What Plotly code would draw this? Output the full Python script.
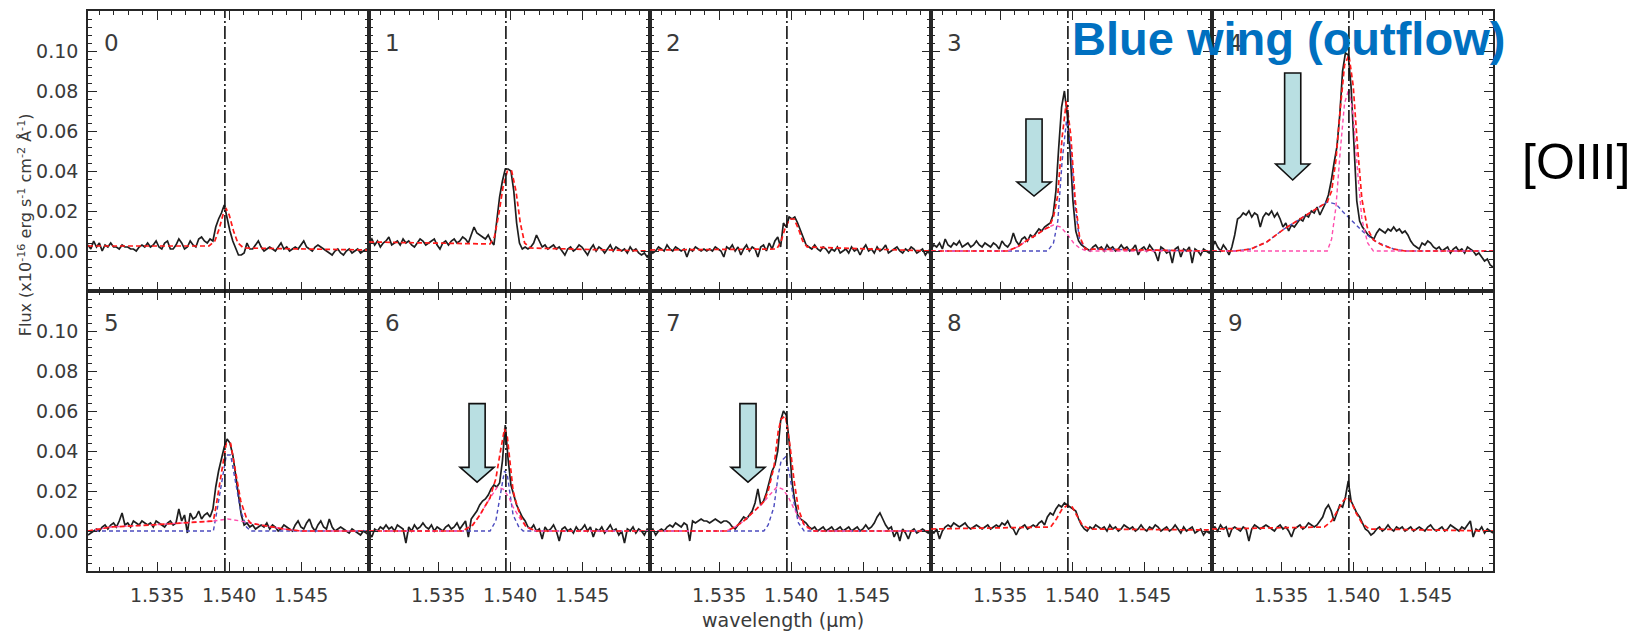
import numpy as np
import plotly.graph_objects as go
from plotly.subplots import make_subplots

# ---------------------------------------------------------------- data
# Spectral sampling of every panel (H band, micron)
WAVE_START = 1.5302
WAVE_STEP = 0.000197
N_PIX = 100
LINE_CENTER = 1.5397          # systemic [OIII] position
X_RANGE = [1.5302, 1.5497]
Y_RANGE = [-0.02, 0.12]
X_TICKS = [1.535, 1.540, 1.545]
Y_TICKS = [0.00, 0.02, 0.04, 0.06, 0.08, 0.10]
PANEL_LABELS = ["0", "1", "2", "3", "4", "5", "6", "7", "8", "9"]

# Observed spectra, flux in units of 1e-3 (axis unit: 1e-16 erg s-1 cm-2 A-1)
SPEC_0 = [3, 1, 5, 2, 4, 0, 3, 2, 4, 2,
          2, 1, 3, 2, 2, 1, 1, 0, 2, 3,
          2, 4, 2, 3, 5, 2, 1, 4, 5, 1,
          1, 3, 6, 4, 1, 2, 5, 3, 2, 6,
          7, 5, 4, 6, 5, 12, 16, 19, 23, 16,
          10, 5, 1, -2, -2, -1, 4, 1, 1, 3,
          5, 2, 0, 1, 2, 1, 0, 2, 4, 1,
          2, 0, 1, 2, 1, 3, 5, 2, 1, 0,
          2, 3, 2, 1, 0, -1, -2, 0, 1, -1,
          -2, 0, 1, -1, 0, 1, -1, 0, 1, 0]
SPEC_1 = [4, 6, 3, 5, 2, 4, 5, 7, 3, 4,
          5, 3, 6, 4, 5, 3, 2, 4, 6, 5,
          3, 4, 5, 6, 3, 1, 4, 5, 3, 5,
          6, 4, 5, 7, 6, 4, 8, 12, 9, 8,
          7, 6, 8, 5, 3, 14, 27, 35, 41, 41,
          40, 30, 14, 4, 1, 2, 1, 2, 4, 8,
          5, 2, 3, 1, 2, 3, 1, 2, 0, -2,
          1, 2, 0, 1, 3, 2, 0, -2, 1, 3,
          0, 2, 1, -1, 1, 3, 0, 2, 1, 0,
          1, -1, 2, 0, 1, -1, -2, -1, -3, -1]
SPEC_2 = [1, -1, 0, 2, 1, 0, 3, 1, 0, 2,
          1, 0, 1, -3, 1, 0, 2, 1, 0, 1,
          0, 1, 0, 2, 1, 0, -3, 2, 1, 3,
          0, 2, -2, 1, 3, 0, 2, 1, -3, 2,
          3, 0, 4, 1, 5, 7, 2, 14, 12, 17,
          16, 17, 14, 10, 6, 3, 2, 1, 3, 1,
          0, 2, 1, -1, 1, 0, 2, -1, 0, 1,
          -1, 2, 0, 1, -2, 1, 3, 0, 1, -1,
          2, 0, 1, 3, -1, 0, 1, 2, 0, -1,
          1, 0, 2, 1, -1, 0, 1, -2, 0, -3]
SPEC_3 = [1, 3, 2, 4, 1, 6, 3, 2, 4, 3,
          5, 2, 3, 4, 2, 3, 5, 3, 2, 4,
          3, 2, 4, 3, 1, 5, 3, 2, 4, 9,
          5, 3, 6, 7, 5, 8, 7, 9, 11, 10,
          12, 13, 14, 18, 30, 52, 72, 80, 68, 50,
          25, 10, 5, 3, 2, 1, 0, 2, 3, 1,
          2, 0, 3, 1, 2, 0, 1, 3, 1, 2,
          0, 1, 3, -2, 1, 2, 0, 3, 1, -1,
          -5, 2, 1, -1, 0, -6, 1, 2, -3, 1,
          0, 2, -6, 1, 0, -2, 1, 0, -1, 1]
SPEC_4 = [1, 5, 2, 0, 3, 1, -2, 2, 8, 16,
          17, 19, 18, 20, 17, 19, 18, 12, 17, 19,
          18, 20, 17, 19, 16, 12, 14, 10, 13, 12,
          14, 16, 15, 18, 17, 20, 19, 22, 18, 21,
          24, 28, 35, 44, 52, 68, 90, 99, 98, 82,
          50, 25, 15, 12, 10, 8, 7, 6, 9, 11,
          10, 9, 11, 10, 12, 10, 11, 9, 10, 8,
          5, 3, 2, 1, 4, 3, 5, 4, 2, 1,
          2, 0, 1, 2, -1, 1, 2, 0, 1, -1,
          2, 1, 0, -2, -1, -3, -5, -4, -7, -8]
SPEC_5 = [-2, -1, 0, 1, 0, 2, 3, 1, 3, 4,
          2, 5, 9, 3, 4, 2, 5, 4, 3, 5,
          4, 3, 4, 2, 5, 4, 3, 2, 4, 5,
          3, 4, 11, 5, 8, -1, 9, 6, 7, 10,
          6, 8, 9, 7, 11, 22, 30, 36, 42, 46,
          44, 38, 28, 16, 8, 3, 4, 2, 3, 1,
          2, 3, 2, 4, 1, 3, 2, 0, 1, 3,
          2, 1, 0, 3, 5, 2, 1, 4, 6, 2,
          0, 3, 5, 2, 1, 6, 2, 0, 1, 2,
          1, 0, -1, 1, 0, -1, -2, 0, -1, -2]
SPEC_6 = [-1, -3, 1, 0, 2, 1, 3, 1, 2, 0,
          3, 2, 1, -6, 2, 0, 3, 1, 2, 4,
          2, 1, 3, 0, 2, 1, 0, 2, 3, 1,
          2, 4, 1, 3, 5, -3, 6, 8, 10, 13,
          15, 16, 18, 21, 23, 22, 24, 35, 53, 36,
          23, 18, 13, 10, 7, 5, 2, 1, 3, 0,
          1, -4, 2, 0, 1, 3, 0, -5, 1, 2,
          0, 1, -1, 2, 0, 1, 3, 0, 2, -3,
          1, 0, 2, -1, 1, 3, 0, 1, -2, 0,
          -6, 1, 0, 2, -1, 1, 0, -2, 1, 0]
SPEC_7 = [0, 1, -2, 0, 1, 0, 2, 3, 2, 4,
          3, 2, 4, 3, -5, 5, 4, 5, 6, 5,
          5, 4, 5, 6, 5, 4, 5, 5, 4, 2,
          1, 3, 5, 7, 6, 8, 10, 14, 21, 13,
          15, 19, 25, 30, 33, 40, 55, 60, 58, 45,
          25, 15, 8, 6, 5, 4, 2, 1, 2, 0,
          1, 2, 0, 1, 2, 0, 1, 2, 0, 1,
          2, 0, 1, 2, 0, 1, 3, 1, 2, 4,
          7, 9, 6, 3, 1, 2, -3, 0, -5, 1,
          -1, -4, 0, 1, -1, 0, 1, 0, -1, 1]
SPEC_8 = [0, -1, 1, -4, 0, 2, 3, 2, 4, 3,
          2, 3, 4, 2, 1, 2, 3, 2, 1, 2,
          3, 1, 2, 3, 2, 4, 3, 5, 2, 1,
          -2, 1, 2, 3, 1, 2, 3, 2, 4, 5,
          3, 7, 9, 8, 11, 13, 12, 14, 13, 12,
          11, 10, 6, 3, 1, 0, 2, 1, 3, 2,
          1, 2, 0, 3, 1, 2, 0, 1, 3, 2,
          1, 2, 0, 1, 3, 1, 0, 2, 1, 3,
          2, 0, 1, 2, 0, 1, 3, 1, -1, 2,
          0, 1, 2, -1, 0, 1, -2, 0, -1, 1]
SPEC_9 = [1, 2, 0, 3, 1, 2, -3, 1, 2, 1,
          0, 2, 1, -5, 1, 3, 2, 1, 2, 3,
          2, 1, 0, 2, 3, 1, 2, 0, -3, 1,
          2, 3, 1, 2, 4, 3, 2, 3, 5, 7,
          11, 13, 10, 5, 9, 13, 12, 17, 25, 15,
          12, 9, 7, 4, 1, 0, -2, -1, 1, 2,
          0, 1, 3, 1, 0, 2, 1, 2, 0, 1,
          2, 0, 1, 2, 1, 0, 2, 3, 1, 0,
          1, 2, 0, 1, 3, 2, 1, 0, 2, 1,
          3, 5, -3, 1, 0, 2, -1, 1, 0, -1]

# Total model (red), knots in wavelength / flux (1e-3)
RED_WAVE_0 = [1.5302, 1.5386, 1.5390, 1.5393, 1.5396, 1.5398, 1.5400, 1.5403, 1.5406, 1.5410, 1.5497]
RED_FLUX_0 = [2.5, 2.5, 5, 11, 19, 21, 18, 10, 4, 1.5, 0.5]
RED_WAVE_1 = [1.5302, 1.5386, 1.5389, 1.5392, 1.5395, 1.5398, 1.5401, 1.5404, 1.5407, 1.5410, 1.5414, 1.5497]
RED_FLUX_1 = [4.5, 3.5, 7, 18, 32, 40, 40, 30, 14, 4, 1.5, 0]
RED_WAVE_2 = [1.5302, 1.5390, 1.5393, 1.5396, 1.5399, 1.5402, 1.5405, 1.5408, 1.5411, 1.5497]
RED_FLUX_2 = [0.5, 1, 5, 12, 16, 16, 11, 5, 2, 0]
RED_WAVE_3 = [1.5302, 1.5355, 1.5362, 1.5368, 1.5375, 1.5381, 1.5384, 1.5387, 1.5390, 1.5393,
              1.5396, 1.5399, 1.5402, 1.5405, 1.5409, 1.5497]
RED_FLUX_3 = [0, 0, 2, 5, 8, 11, 12, 17, 28, 57, 75, 58, 26, 7.5, 1, 0]
RED_WAVE_4 = [1.5302, 1.5318, 1.5329, 1.5340, 1.5352, 1.5363, 1.5372, 1.5382, 1.5385, 1.5388, 1.5391,
              1.5394, 1.5397, 1.5400, 1.5403, 1.5406, 1.5410, 1.5414, 1.5420, 1.5428, 1.5436, 1.5497]
RED_FLUX_4 = [0, 0, 1, 4.5, 11, 16, 20, 24.5, 30, 45.5, 71, 93, 98, 82.5, 52, 26, 11, 5.5, 3, 1, 0, 0]
RED_WAVE_5 = [1.5302, 1.5318, 1.5345, 1.5371, 1.5389, 1.5391, 1.5395, 1.5398, 1.5401, 1.5403, 1.5408,
              1.5412, 1.5415, 1.5422, 1.5438, 1.5450, 1.5497]
RED_FLUX_5 = [0, 2, 3, 4, 5, 13, 30.5, 44, 43.7, 35.5, 15, 6.4, 3.9, 3, 1, 0, 0]
RED_WAVE_6 = [1.5302, 1.5367, 1.5374, 1.5379, 1.5383, 1.5386, 1.5388, 1.5390, 1.5393, 1.5396, 1.5398,
              1.5400, 1.5402, 1.5404, 1.5407, 1.5411, 1.5418, 1.5497]
RED_FLUX_6 = [0, 0, 3, 8, 13, 16.6, 21.5, 26, 39, 51, 47, 33, 20, 14.5, 7.5, 2, 0, 0]
RED_WAVE_7 = [1.5302, 1.5355, 1.5361, 1.5367, 1.5373, 1.5379, 1.5381, 1.5384, 1.5388, 1.5391, 1.5393,
              1.5396, 1.5399, 1.5402, 1.5405, 1.5409, 1.5416, 1.5497]
RED_FLUX_7 = [0, 0, 2, 5, 9, 13, 14.7, 20, 32, 50, 56, 57.5, 43.5, 25, 11, 3, 0, 0]
RED_WAVE_8 = [1.5302, 1.5385, 1.5389, 1.5393, 1.5397, 1.5400, 1.5403, 1.5407, 1.5412, 1.5497]
RED_FLUX_8 = [1, 2, 6, 11, 13, 12, 8, 3, 1, 0.5]
RED_WAVE_9 = [1.5302, 1.5380, 1.5385, 1.5389, 1.5393, 1.5396, 1.5399, 1.5402, 1.5406, 1.5411, 1.5497]
RED_FLUX_9 = [1, 2, 5, 10, 15, 17, 14, 9, 4, 1, 0]

# Gaussian components drawn in blue
BLUE_WAVE_3 = [1.5302, 1.5383, 1.5387, 1.5390, 1.5393, 1.5396, 1.5399, 1.5402, 1.5405, 1.5409, 1.5497]
BLUE_FLUX_3 = [0, 0, 4, 15, 45, 65, 52, 22, 6, 1, 0]
BLUE_WAVE_4 = [1.5302, 1.5318, 1.5329, 1.5340, 1.5352, 1.5363, 1.5372, 1.5382, 1.5388, 1.5393, 1.5400,
               1.5407, 1.5416, 1.5428, 1.5436, 1.5497]
BLUE_FLUX_4 = [0, 0, 1, 4.5, 11, 16, 20, 24.5, 23.5, 19.5, 14.5, 9.5, 4.5, 1, 0, 0]
BLUE_WAVE_5 = [1.5302, 1.5389, 1.5391, 1.5395, 1.5398, 1.5401, 1.5403, 1.5408, 1.5412, 1.5415, 1.5497]
BLUE_FLUX_5 = [0, 0, 8, 25, 38, 38, 30, 10, 2, 0, 0]
BLUE_WAVE_6 = [1.5302, 1.5386, 1.5390, 1.5393, 1.5396, 1.5398, 1.5400, 1.5402, 1.5406, 1.5409, 1.5497]
BLUE_FLUX_6 = [0, 0, 5, 17, 30, 28, 17, 8, 2, 0, 0]
BLUE_WAVE_7 = [1.5302, 1.5381, 1.5384, 1.5388, 1.5391, 1.5393, 1.5396, 1.5399, 1.5402, 1.5405, 1.5409, 1.5497]
BLUE_FLUX_7 = [0, 0, 3, 12, 28, 35, 37, 28, 14, 4, 0, 0]

# Gaussian components drawn in pink
PINK_WAVE_3 = [1.5302, 1.5355, 1.5362, 1.5368, 1.5375, 1.5381, 1.5387, 1.5392, 1.5397, 1.5401, 1.5405,
               1.5410, 1.5497]
PINK_FLUX_3 = [0, 0, 2, 5, 8, 11, 13, 12, 8, 4, 1.5, 0, 0]
PINK_WAVE_4 = [1.5302, 1.5382, 1.5385, 1.5388, 1.5391, 1.5394, 1.5397, 1.5400, 1.5403, 1.5406, 1.5410,
               1.5414, 1.5497]
PINK_FLUX_4 = [0, 0, 6, 22, 50, 74, 81, 68, 40, 16, 4, 0, 0]
PINK_WAVE_5 = [1.5302, 1.5318, 1.5345, 1.5371, 1.5389, 1.5399, 1.5408, 1.5422, 1.5438, 1.5450, 1.5497]
PINK_FLUX_5 = [0, 2, 3, 4, 5, 6, 5, 3, 1, 0, 0]
PINK_WAVE_6 = [1.5302, 1.5367, 1.5374, 1.5379, 1.5383, 1.5388, 1.5391, 1.5395, 1.5399, 1.5402, 1.5407,
               1.5411, 1.5418, 1.5497]
PINK_FLUX_6 = [0, 0, 3, 8, 13, 19, 22, 21, 17, 12, 6, 2, 0, 0]
PINK_WAVE_7 = [1.5302, 1.5355, 1.5361, 1.5367, 1.5373, 1.5379, 1.5385, 1.5390, 1.5394, 1.5398, 1.5402,
               1.5406, 1.5410, 1.5416, 1.5497]
PINK_FLUX_7 = [0, 0, 2, 5, 9, 13, 18, 22, 21, 17, 11, 6, 2, 0, 0]

SPECTRA = [SPEC_0, SPEC_1, SPEC_2, SPEC_3, SPEC_4, SPEC_5, SPEC_6, SPEC_7, SPEC_8, SPEC_9]
RED_FITS = [(RED_WAVE_0, RED_FLUX_0), (RED_WAVE_1, RED_FLUX_1), (RED_WAVE_2, RED_FLUX_2),
            (RED_WAVE_3, RED_FLUX_3), (RED_WAVE_4, RED_FLUX_4), (RED_WAVE_5, RED_FLUX_5),
            (RED_WAVE_6, RED_FLUX_6), (RED_WAVE_7, RED_FLUX_7), (RED_WAVE_8, RED_FLUX_8),
            (RED_WAVE_9, RED_FLUX_9)]
BLUE_FITS = {3: (BLUE_WAVE_3, BLUE_FLUX_3), 4: (BLUE_WAVE_4, BLUE_FLUX_4), 5: (BLUE_WAVE_5, BLUE_FLUX_5),
             6: (BLUE_WAVE_6, BLUE_FLUX_6), 7: (BLUE_WAVE_7, BLUE_FLUX_7)}
PINK_FITS = {3: (PINK_WAVE_3, PINK_FLUX_3), 4: (PINK_WAVE_4, PINK_FLUX_4), 5: (PINK_WAVE_5, PINK_FLUX_5),
             6: (PINK_WAVE_6, PINK_FLUX_6), 7: (PINK_WAVE_7, PINK_FLUX_7)}

# Outflow arrows: panel, centre wavelength, tip / head-base / tail flux
ARROW_PANELS = [3, 4, 6, 7]
ARROW_X = [1.53735, 1.5358, 1.5377, 1.5370]
ARROW_TIP = [0.0275, 0.0355, 0.0244, 0.0244]
ARROW_HEAD = [0.0345, 0.0435, 0.0318, 0.0318]
ARROW_TAIL = [0.066, 0.089, 0.0637, 0.0637]

MILLI = 1e-3
for s in SPECTRA:
    assert len(s) == N_PIX
wave = WAVE_START + WAVE_STEP * np.arange(N_PIX)

# ---------------------------------------------------------------- styles
W, H = 1649, 631
ML, MR, MT, MB = 88, 156, 9, 60
AX_FONT = "DejaVu Sans"
INK = "#1e1e1e"
FRAME = "#262626"
LABEL_GREY = "#3a3a3a"
RED = "#ff1a1a"
BLUE = "#4b4bbf"
PINK = "#ff4fae"
ARROW_FILL = "#b9dfe2"


def axis_suffix(p):
    return "" if p == 0 else str(p + 1)


fig = make_subplots(rows=2, cols=5, horizontal_spacing=0, vertical_spacing=0)

for p in range(10):
    row, col = p // 5 + 1, p % 5 + 1
    fig.add_trace(go.Scatter(x=wave, y=np.array(SPECTRA[p]) * MILLI, mode="lines",
                             line=dict(color=INK, width=1.7), hoverinfo="skip"), row=row, col=col)
    if p in BLUE_FITS:
        bx, by = BLUE_FITS[p]
        fig.add_trace(go.Scatter(x=bx, y=np.array(by) * MILLI, mode="lines",
                                 line=dict(color=BLUE, width=1.4, dash="4px,3px")), row=row, col=col)
    if p in PINK_FITS:
        kx, ky = PINK_FITS[p]
        fig.add_trace(go.Scatter(x=kx, y=np.array(ky) * MILLI, mode="lines",
                                 line=dict(color=PINK, width=1.4, dash="4px,3px")), row=row, col=col)
    rx, ry = RED_FITS[p]
    fig.add_trace(go.Scatter(x=rx, y=np.array(ry) * MILLI, mode="lines",
                             line=dict(color=RED, width=1.7, dash="5px,3px")), row=row, col=col)

    sfx = axis_suffix(p)
    # systemic line marker
    fig.add_shape(type="line", x0=LINE_CENTER, x1=LINE_CENTER, y0=0, y1=1,
                  xref=f"x{sfx}", yref=f"y{sfx} domain",
                  line=dict(color="#111111", width=1.6, dash="13px,3px,2px,3px"), layer="above")

    # panel number
    fig.add_annotation(text=PANEL_LABELS[p], xref=f"x{sfx} domain", yref=f"y{sfx} domain",
                       x=0.05, y=0.885, xanchor="left", yanchor="middle", showarrow=False,
                       font=dict(family=AX_FONT, size=23, color=LABEL_GREY))

# arrows flagging the blue wing
hw, sw = 0.00118, 0.00056
for p, xc, yt, yh, ytop in zip(ARROW_PANELS, ARROW_X, ARROW_TIP, ARROW_HEAD, ARROW_TAIL):
    sfx = axis_suffix(p)
    path = (f"M {xc - sw},{ytop} L {xc + sw},{ytop} L {xc + sw},{yh} L {xc + hw},{yh} "
            f"L {xc},{yt} L {xc - hw},{yh} L {xc - sw},{yh} Z")
    fig.add_shape(type="path", path=path, xref=f"x{sfx}", yref=f"y{sfx}",
                  fillcolor=ARROW_FILL, line=dict(color="#111111", width=1.6), layer="above")

axis_common = dict(showline=True, linecolor=FRAME, linewidth=1.6, mirror="ticks",
                   ticks="inside", tickcolor=FRAME, tickwidth=1.4, showgrid=False, zeroline=False,
                   tickfont=dict(family=AX_FONT, size=19, color=LABEL_GREY))
for p in range(10):
    row, col = p // 5 + 1, p % 5 + 1
    fig.update_xaxes(range=X_RANGE, tickvals=X_TICKS, ticktext=[f"{v:.3f}" for v in X_TICKS],
                     ticklen=9, showticklabels=(row == 2), ticklabelstandoff=6,
                     minor=dict(ticks="inside", ticklen=4, dtick=0.001, tick0=1.530,
                                tickcolor=FRAME, tickwidth=1.2),
                     row=row, col=col, **axis_common)
    fig.update_yaxes(range=Y_RANGE, tickvals=Y_TICKS, ticktext=[f"{v:.2f}" for v in Y_TICKS],
                     ticklen=9, showticklabels=(col == 1), ticklabelstandoff=4,
                     minor=dict(ticks="inside", ticklen=4, dtick=0.004, tick0=0.0,
                                tickcolor=FRAME, tickwidth=1.2),
                     row=row, col=col, **axis_common)


def paper_x(px):
    return (px - ML) / (W - ML - MR)


def paper_y(py):
    return (H - MB - py) / (H - MT - MB)


fig.add_annotation(text="Flux (x10<sup>-16</sup> erg s<sup>-1</sup> cm<sup>-2</sup> Å<sup>-1</sup>)",
                   xref="paper", yref="paper", x=paper_x(25), y=paper_y(224), textangle=-90,
                   showarrow=False, xanchor="center", yanchor="middle",
                   font=dict(family=AX_FONT, size=16, color=LABEL_GREY))
fig.add_annotation(text="wavelength (μm)", xref="paper", yref="paper",
                   x=paper_x(783), y=paper_y(620), showarrow=False, xanchor="center", yanchor="middle",
                   font=dict(family=AX_FONT, size=19, color=LABEL_GREY))
fig.add_annotation(text="<b>Blue wing (outflow)</b>", xref="paper", yref="paper",
                   x=paper_x(1070), y=paper_y(37), showarrow=False, xanchor="left", yanchor="middle",
                   font=dict(family="Liberation Sans", size=47, color="#0070c0"))
fig.add_annotation(text="[OIII]", xref="paper", yref="paper",
                   x=paper_x(1520), y=paper_y(161), showarrow=False, xanchor="left", yanchor="middle",
                   font=dict(family="Liberation Sans", size=50, color="#000000"))

fig.update_layout(width=W, height=H, margin=dict(l=ML, r=MR, t=MT, b=MB),
                  plot_bgcolor="white", paper_bgcolor="white", showlegend=False)

fig.write_html("out.html")
